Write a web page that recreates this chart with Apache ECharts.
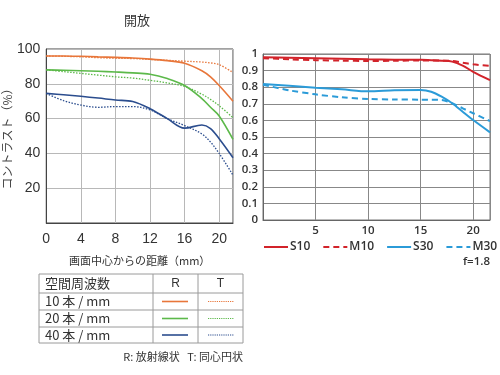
<!DOCTYPE html>
<html><head><meta charset="utf-8">
<script src="https://cdn.jsdelivr.net/npm/echarts@6/dist/echarts.min.js"></script>
<style>html,body{margin:0;padding:0;background:#fff}#c{width:500px;height:375px}</style>
</head><body><div id="c"></div>
<script>
// Left chart (MTF %, distance from center mm)
const xLeft = [0, 2, 4, 6, 8, 10, 12, 14, 16, 18, 19, 20, 21.6];
const r10 = [96, 96, 95.8, 95.5, 95.2, 94.8, 94.2, 93.3, 91.8, 87.5, 84, 79, 70];
const t10 = [96, 95.8, 95.5, 95, 94.7, 94.5, 94, 93.5, 93, 92.5, 92, 91, 86.5];
const r20 = [88, 87.8, 87.5, 87.2, 86.8, 86.3, 85.5, 83, 79, 71.5, 66.5, 61.5, 48];
const t20 = [88, 87, 86, 85, 84, 83.3, 82, 80.5, 78.5, 74, 71, 67.4, 60.5];
const r40 = [74.5, 73.7, 72.8, 71.8, 70.7, 69.8, 65.7, 60, 54.5, 56.3, 54.3, 48.4, 37.5];
const t40 = [74.5, 70.3, 67.8, 66.5, 66.9, 66.9, 65, 60, 56, 51.2, 46.5, 40, 27.5];
const leftXTicks = [0, 4, 8, 12, 16, 20];
const leftYTicks = [20, 40, 60, 80, 100];

// Right chart (MTF 0-1)
const xRight = [0, 2.5, 5, 7.5, 10, 12.5, 15, 16, 17, 18, 19, 20, 21.6];
const s10 = [0.98, 0.977, 0.974, 0.971, 0.968, 0.966, 0.965, 0.963, 0.96, 0.954, 0.93, 0.893, 0.843];
const m10 = [0.975, 0.968, 0.963, 0.96, 0.958, 0.959, 0.961, 0.961, 0.96, 0.958, 0.948, 0.938, 0.928];
const s30 = [0.819, 0.808, 0.797, 0.787, 0.775, 0.781, 0.783, 0.773, 0.743, 0.703, 0.652, 0.602, 0.528];
const m30 = [0.815, 0.781, 0.757, 0.739, 0.729, 0.726, 0.725, 0.724, 0.723, 0.703, 0.673, 0.643, 0.596];
const rightNames = ['S10', 'M10', 'S30', 'M30'];

// Table legend
const tableHeader = ['空間周波数', 'R', 'T'];
const tableRows = ['10 本 / mm', '20 本 / mm', '40 本 / mm'];

const cOrange = '#e8763a', cGreen = '#5cb94a', cBlue = '#2b4d8e';
const cRed = '#d2232a', cCyan = '#2b9bd8';

const pairs = (xs, ys) => xs.map((x, i) => [x, ys[i]]);

const chart = echarts.init(document.getElementById('c'), null, {renderer: 'canvas'});

function leftSeries(name, data, color, dotted) {
  return {
    name, type: 'line', xAxisIndex: 0, yAxisIndex: 0, smooth: 0.35,
    symbol: 'none', data: pairs(xLeft, data),
    lineStyle: {color, width: dotted ? 1.3 : 1.6, type: dotted ? [1.5, 1.5] : 'solid'},
    itemStyle: {color}
  };
}
function rightSeries(name, data, color, dashed) {
  return {
    name, type: 'line', xAxisIndex: 1, yAxisIndex: 1, smooth: 0.3,
    symbol: 'none', data: pairs(xRight, data),
    lineStyle: {color, width: 2, type: dashed ? [6, 4] : 'solid'},
    itemStyle: {color}
  };
}

const fontL = 'Liberation Sans, Arial, sans-serif';
const fontR = 'Open Sans, sans-serif';

// table graphics
const tX = [39, 153, 198, 243];
const tY = [274, 293, 310, 327, 343];
const graphics = [];
graphics.push({type: 'text', style: {text: '開放', x: 137, y: 20, align: 'center', verticalAlign: 'middle', font: '13px "Noto Sans CJK JP"', fill: '#333'}});
graphics.push({type: 'text', style: {text: 'f=1.8', x: 490, y: 262, align: 'right', verticalAlign: 'middle', font: '600 11.5px "Open Sans"', fill: '#333'}});
graphics.push({type: 'rect', shape: {x: tX[0], y: tY[0], width: tX[3] - tX[0], height: tY[4] - tY[0]}, style: {fill: 'none', stroke: '#9a9a9a', lineWidth: 1}});
for (let i = 1; i < 4; i++) graphics.push({type: 'line', shape: {x1: tX[0], y1: tY[i], x2: tX[3], y2: tY[i]}, style: {stroke: '#9a9a9a', lineWidth: 1}});
for (let i = 1; i < 3; i++) graphics.push({type: 'line', shape: {x1: tX[i], y1: tY[0], x2: tX[i], y2: tY[4]}, style: {stroke: '#9a9a9a', lineWidth: 1}});
graphics.push({type: 'text', style: {text: tableHeader[0], x: 45, y: (tY[0] + tY[1]) / 2, verticalAlign: 'middle', font: '13px "Noto Sans CJK JP"', fill: '#333'}});
graphics.push({type: 'text', style: {text: tableHeader[1], x: (tX[1] + tX[2]) / 2, y: (tY[0] + tY[1]) / 2, align: 'center', verticalAlign: 'middle', font: '12px "Liberation Sans"', fill: '#333'}});
graphics.push({type: 'text', style: {text: tableHeader[2], x: (tX[2] + tX[3]) / 2, y: (tY[0] + tY[1]) / 2, align: 'center', verticalAlign: 'middle', font: '12px "Liberation Sans"', fill: '#333'}});
const rowColors = [cOrange, cGreen, cBlue];
tableRows.forEach((t, i) => {
  const cy = (tY[i + 1] + tY[i + 2]) / 2;
  graphics.push({type: 'text', style: {text: t, x: 45, y: cy, verticalAlign: 'middle', font: '13px "Noto Sans CJK JP"', fill: '#333'}});
  graphics.push({type: 'line', shape: {x1: 162, y1: cy, x2: 188, y2: cy}, style: {stroke: rowColors[i], lineWidth: 1.6}});
  graphics.push({type: 'line', shape: {x1: 208, y1: cy, x2: 234, y2: cy}, style: {stroke: rowColors[i], lineWidth: 1.2, lineDash: [1.2, 1]}});
});
graphics.push({type: 'text', style: {text: 'R: 放射線状   T: 同心円状', x: 243, y: 357, align: 'right', verticalAlign: 'middle', font: '11px "Noto Sans CJK JP"', fill: '#333'}});

const option = {
  animation: false,
  backgroundColor: '#fff',
  grid: [
    {left: 44, top: 49, width: 189, height: 174, show: true, borderColor: '#444', borderWidth: 1, backgroundColor: 'transparent'},
    {left: 263, top: 54, width: 227, height: 166, show: true, borderColor: '#777', borderWidth: 1, backgroundColor: 'transparent'}
  ],
  xAxis: [
    {type: 'value', gridIndex: 0, min: 0, max: 21.6, interval: 4,
     name: '画面中心からの距離（mm）', nameLocation: 'middle', nameGap: 32,
     nameTextStyle: {fontFamily: 'Noto Sans CJK JP', fontSize: 11, color: '#333'},
     axisLine: {show: true, lineStyle: {color: '#444'}}, axisTick: {show: false},
     axisLabel: {showMaxLabel: false, fontFamily: fontL, fontSize: 14, color: '#333', margin: 9,
                 formatter: v => leftXTicks.includes(v) ? String(v) : ''},
     splitLine: {show: true, lineStyle: {color: '#b8b8b8', width: 1}}},
    {type: 'value', gridIndex: 1, min: 0, max: 21.6, interval: 5,
     axisLine: {show: true, lineStyle: {color: '#666'}}, axisTick: {show: false},
     axisLabel: {showMinLabel: false, showMaxLabel: false, fontFamily: fontR, fontWeight: 600, fontSize: 11.5, color: '#333', margin: 5},
     splitLine: {show: true, lineStyle: {color: '#888', width: 1}}}
  ],
  yAxis: [
    {type: 'value', gridIndex: 0, min: 0, max: 100, interval: 20,
     name: 'コントラスト（%）', nameLocation: 'middle', nameGap: 31, nameRotate: 90,
     nameTextStyle: {fontFamily: 'Noto Sans CJK JP', fontSize: 12, color: '#444'},
     axisLine: {show: true, lineStyle: {color: '#444'}}, axisTick: {show: false},
     axisLabel: {fontFamily: fontL, fontSize: 14, color: '#333', margin: 6,
                 formatter: v => leftYTicks.includes(v) ? String(v) : ''},
     splitLine: {show: true, lineStyle: {color: '#b8b8b8', width: 1}}},
    {type: 'value', gridIndex: 1, min: 0, max: 1, interval: 0.1,
     axisLine: {show: true, lineStyle: {color: '#666'}}, axisTick: {show: false},
     axisLabel: {fontFamily: fontR, fontWeight: 600, fontSize: 11.5, color: '#333', margin: 5,
                 formatter: v => String(Math.round(v * 10) / 10)},
     splitLine: {show: true, lineStyle: {color: '#888', width: 1}}}
  ],
  legend: {
    data: rightNames, left: 258, top: 236, width: 242, itemWidth: 24, itemHeight: 12, itemGap: 12,
    itemStyle: {opacity: 0},
    textStyle: {fontFamily: fontR, fontWeight: 600, fontSize: 12, color: '#333', padding: [0, 0, 0, -3]}
  },
  graphic: graphics,
  series: [
    leftSeries('10本R', r10, cOrange, false),
    leftSeries('10本T', t10, cOrange, true),
    leftSeries('20本R', r20, cGreen, false),
    leftSeries('20本T', t20, cGreen, true),
    leftSeries('40本R', r40, cBlue, false),
    leftSeries('40本T', t40, cBlue, true),
    rightSeries('S10', s10, cRed, false),
    rightSeries('M10', m10, cRed, true),
    rightSeries('S30', s30, cCyan, false),
    rightSeries('M30', m30, cCyan, true)
  ]
};
chart.setOption(option);
</script>
</body></html>
